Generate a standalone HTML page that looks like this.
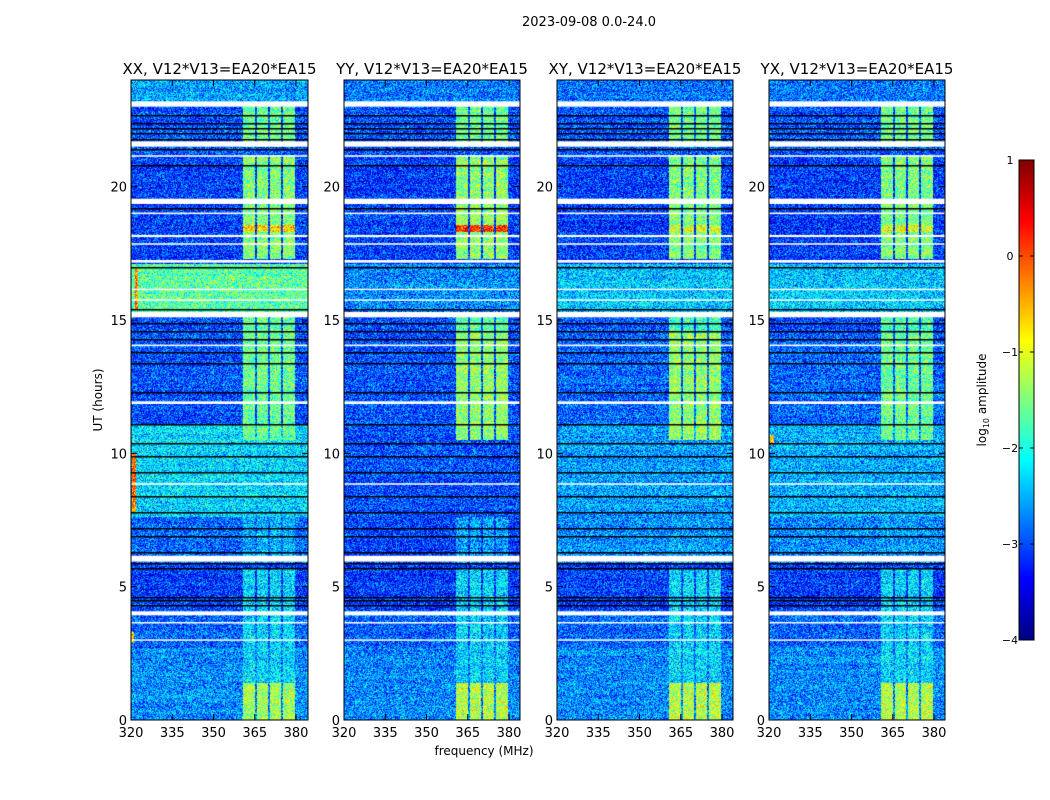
<!DOCTYPE html>
<html><head><meta charset="utf-8">
<style>
html,body{margin:0;padding:0;background:#fff;}
#wrap{position:relative;width:1050px;height:800px;overflow:hidden;font-family:"DejaVu Sans","Liberation Sans",sans-serif;}
canvas{position:absolute;}
svg{position:absolute;left:0;top:0;}
</style></head>
<body>
<div id="wrap">
<canvas id="c0" width="177" height="640" style="left:131px;top:80px"></canvas>
<canvas id="c1" width="176" height="640" style="left:344px;top:80px"></canvas>
<canvas id="c2" width="176" height="640" style="left:557px;top:80px"></canvas>
<canvas id="c3" width="176" height="640" style="left:769px;top:80px"></canvas>
<canvas id="cb" width="15" height="480" style="left:1019px;top:160px"></canvas>
<svg id="ov" width="1050" height="800"></svg>
</div>
<script>
// ---- data ----
const panelTitles = ["XX, V12*V13=EA20*EA15","YY, V12*V13=EA20*EA15","XY, V12*V13=EA20*EA15","YX, V12*V13=EA20*EA15"];
const panelLeft = [131,344,557,769];
const xTicks = [320,335,350,365,380];
const yTicks = [0,5,10,15,20];
const cbTicks = [1,0,-1,-2,-3,-4];
// time segments (hours) for background level
const segStart = [0,2.7,4.1,5.9,7.6,11.1,14.2,15.2,17.1,21.2,23.1];
const segEnd   = [2.7,4.1,5.9,7.6,11.1,14.2,15.2,17.1,21.2,23.1,24];
const bgXX = [-2.7,-2.9,-3.1,-2.9,-2.3,-3.0,-3.0,-1.7,-3.1,-3.0,-2.6];
const bgYY = [-2.7,-2.9,-3.1,-3.1,-3.0,-3.0,-3.0,-2.7,-3.1,-3.0,-2.8];
const bgXY = [-2.7,-2.9,-3.1,-2.7,-2.6,-2.9,-3.0,-2.4,-3.1,-3.0,-2.8];
const bgYX = [-2.7,-2.9,-3.1,-2.7,-2.5,-2.9,-3.0,-2.4,-3.1,-3.0,-2.8];
const bgLevels = [bgXX,bgYY,bgXY,bgYX];
// RFI time blocks & levels
const rfiStart = [0,1.4,5.9,10.5,14.2,17.3,18.3,21.5];
const rfiEnd   = [1.4,5.7,7.6,14.5,15.2,21.2,18.55,23.1];
const rfiXX = [-1.3,-2.3,-2.5,-1.6,-1.6,-1.5,-0.7,-1.6];
const rfiYY = [-1.2,-2.3,-2.6,-1.4,-1.7,-1.4,0.1,-1.6];
const rfiXY = [-1.2,-2.3,-2.6,-1.4,-1.9,-1.5,-1.0,-1.6];
const rfiYX = [-1.2,-2.3,-2.6,-1.6,-1.7,-1.5,-1.0,-1.6];
const rfiLevels = [rfiXX,rfiYY,rfiXY,rfiYX];
// RFI frequency channels (MHz)
const rfiF0 = [360.6,365.9,370.6,375.3];
const rfiF1 = [365.2,369.9,374.6,379.8];
// flagged rows (hours)
const whiteT = [23.1,21.6,21.15,19.45,19.0,18.15,17.85,17.2,16.15,15.75,15.2,14.05,11.9,8.85,6.05,4.0,3.65,3.0];
const whiteW = [0.2,0.2,0.06,0.2,0.06,0.08,0.06,0.1,0.05,0.05,0.2,0.06,0.1,0.06,0.22,0.15,0.05,0.05];
const blackT = [22.7,22.4,22.2,22.0,21.8,21.4,20.8,19.2,17.0,15.4,14.9,14.6,14.3,13.8,13.4,12.3,11.1,10.4,9.9,9.3,8.4,7.8,7.2,6.9,6.3,5.9,5.7,4.6,4.5,4.3];
// hot spots [panel, f0, f1, t0, t1, level]
const spots = [[0,320.5,322,7.8,10.0,-0.2],[0,321.5,322.6,15.4,16.9,-0.3],[3,320.5,322,10.3,10.7,-0.5],[0,320,321,2.9,3.3,-0.7]];

// ---- scales ----
const F0=320,F1=384,T0=0,T1=24,W=176,H=640;
const fx = f => (f-F0)/(F1-F0)*W;
const ty = t => H-(t-T0)/(T1-T0)*H;
function jet(v){v=Math.max(0,Math.min(1,v));const c=x=>Math.round(255*Math.max(0,Math.min(1,1.5-Math.abs(x))));return [c(4*v-3),c(4*v-2),c(4*v-1)];}
const norm = a => (a+4)/5;
function hash(i,j,k){let h=(i*374761393+j*668265263+k*2147483647)|0;h=(h^(h>>>13))*1274126177|0;return ((h^(h>>>16))>>>0)/4294967296;}

function levelAt(p,f,t){
  let L=-3;
  for(let s=0;s<segStart.length;s++) if(t>=segStart[s]&&t<segEnd[s]) L=bgLevels[p][s];
  for(let r=0;r<rfiStart.length;r++) if(t>=rfiStart[r]&&t<rfiEnd[r])
    for(let c=0;c<rfiF0.length;c++) if(f>=rfiF0[c]&&f<rfiF1[c]) L=Math.max(L,rfiLevels[p][r]);
  for(const s of spots) if(s[0]===p&&f>=s[1]&&f<s[2]&&t>=s[3]&&t<s[4]) L=Math.max(L,s[5]);
  return L;
}
for(let p=0;p<4;p++){
  const cv=document.getElementById('c'+p), ctx=cv.getContext('2d');
  const w=cv.width, img=ctx.createImageData(w,H);
  for(let y=0;y<H;y++){
    const t=T1-(y+0.5)/H*(T1-T0);
    const rowJ=(hash(Math.floor(y/2),p,7)-0.5)*0.2;
    for(let x=0;x<w;x++){
      const f=F0+(x+0.5)/W*(F1-F0);
      const n=(hash(x,y,p+1)+hash(x,y,p+11)-1)*0.9+rowJ;
      const [r,g,b]=jet(norm(levelAt(p,f,t)+n));
      const k=(y*w+x)*4;img.data[k]=r;img.data[k+1]=g;img.data[k+2]=b;img.data[k+3]=255;
    }
  }
  ctx.putImageData(img,0,0);
  ctx.fillStyle='#000';
  blackT.forEach(t=>ctx.fillRect(0,Math.round(ty(t)),w,1.5));
  ctx.fillStyle='#fff';
  whiteT.forEach((t,i)=>ctx.fillRect(0,ty(t+whiteW[i]/2),w,Math.max(1.5,whiteW[i]/24*H)));
}
// colorbar
{const cv=document.getElementById('cb'),ctx=cv.getContext('2d');
 for(let y=0;y<480;y++){const [r,g,b]=jet(1-y/479);ctx.fillStyle=`rgb(${r},${g},${b})`;ctx.fillRect(0,y,15,1);}}

// ---- overlay ----
const ov=document.getElementById('ov');const NS='http://www.w3.org/2000/svg';
function el(tag,attrs,txt){const e=document.createElementNS(NS,tag);for(const k in attrs)e.setAttribute(k,attrs[k]);if(txt!==undefined)e.textContent=txt;ov.appendChild(e);return e;}
let e=el('text',{x:589,y:26,'text-anchor':'middle','font-size':13},'2023-09-08 0.0-24.0');


for(let p=0;p<4;p++){
  const L=panelLeft[p],Wp=(p===0?177:176);
  e=el('text',{x:L+Wp/2,y:74,'text-anchor':'middle','font-size':15},panelTitles[p]);
  
  
  e=el('rect',{x:L,y:80,width:Wp,height:640,fill:'none',stroke:'#000','stroke-width':1});
  
  
  xTicks.forEach(v=>{const x=L+fx(v);
    el('line',{x1:x,x2:x,y1:720,y2:714,stroke:'#000'});el('line',{x1:x,x2:x,y1:80,y2:86,stroke:'#000'});
    e=el('text',{x:x,y:737,'text-anchor':'middle','font-size':13},String(v));
    
    });
  yTicks.forEach(v=>{const y=80+ty(v);
    el('line',{x1:L,x2:L+6,y1:y,y2:y,stroke:'#000'});el('line',{x1:L+Wp-6,x2:L+Wp,y1:y,y2:y,stroke:'#000'});
    e=el('text',{x:L-4,y:y+5,'text-anchor':'end','font-size':13},String(v));
    
    });
}
e=el('text',{x:484,y:755,'text-anchor':'middle','font-size':12},'frequency (MHz)');


e=el('text',{x:0,y:0,'text-anchor':'middle','font-size':12,transform:'translate(102,400) rotate(-90)'},'UT (hours)');


e=el('rect',{x:1019,y:160,width:15,height:480,fill:'none',stroke:'#000'});


cbTicks.forEach(v=>{const y=160+(1-v)/5*480;
  el('line',{x1:1019,x2:1023,y1:y,y2:y,stroke:'#000'});el('line',{x1:1030,x2:1034,y1:y,y2:y,stroke:'#000'});
  e=el('text',{x:1010,y:y+4,'text-anchor':'middle','font-size':11},v<0?'\u2212'+(-v):String(v));
  
  });
e=el('text',{x:0,y:0,'text-anchor':'middle','font-size':12,transform:'translate(986,400) rotate(-90)'});
e.innerHTML='log<tspan font-size="8" dy="3">10</tspan><tspan dy="-3"> amplitude</tspan>';


</script>
</body></html>
